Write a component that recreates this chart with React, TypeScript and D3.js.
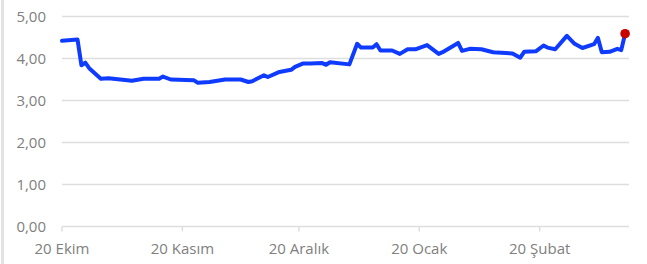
import React from "react";
import * as d3 from "d3";

const dates: string[] = [
  "2023-10-20", "2023-10-24", "2023-10-25", "2023-10-26", "2023-10-27", "2023-10-30",
  "2023-11-01", "2023-11-07", "2023-11-10", "2023-11-14", "2023-11-15", "2023-11-17",
  "2023-11-23", "2023-11-24", "2023-11-27", "2023-12-01", "2023-12-05", "2023-12-07",
  "2023-12-08", "2023-12-11", "2023-12-12", "2023-12-15", "2023-12-18", "2023-12-19",
  "2023-12-21", "2023-12-23", "2023-12-26", "2023-12-27", "2023-12-28", "2024-01-02",
  "2024-01-04", "2024-01-05", "2024-01-08", "2024-01-09", "2024-01-10", "2024-01-13",
  "2024-01-15", "2024-01-17", "2024-01-19", "2024-01-22", "2024-01-25", "2024-01-26",
  "2024-01-30", "2024-01-31", "2024-02-02", "2024-02-05", "2024-02-08", "2024-02-09",
  "2024-02-13", "2024-02-15", "2024-02-16", "2024-02-19", "2024-02-21", "2024-02-22",
  "2024-02-24", "2024-02-27", "2024-02-29", "2024-03-02", "2024-03-05", "2024-03-06",
  "2024-03-07", "2024-03-09", "2024-03-11", "2024-03-12", "2024-03-13",
];
const values: number[] = [
  4.42, 4.45, 3.84, 3.9, 3.77, 3.52,
  3.53, 3.47, 3.52, 3.52, 3.57, 3.5,
  3.48, 3.42, 3.44, 3.5, 3.5, 3.44,
  3.46, 3.6, 3.56, 3.68, 3.73, 3.8,
  3.88, 3.88, 3.89, 3.85, 3.91, 3.86,
  4.35, 4.26, 4.26, 4.34, 4.19, 4.19,
  4.11, 4.22, 4.22, 4.32, 4.11, 4.15,
  4.37, 4.18, 4.23, 4.22, 4.15, 4.14,
  4.12, 4.02, 4.16, 4.17, 4.31, 4.26,
  4.22, 4.54, 4.35, 4.25, 4.34, 4.49,
  4.15, 4.16, 4.23, 4.2, 4.59,
];
const yTicks: number[] = [0, 1, 2, 3, 4, 5];
const xTickDates: string[] = ["2023-10-20", "2023-11-20", "2023-12-20", "2024-01-20", "2024-02-20"];
const xTickLabels: string[] = ["20 Ekim", "20 Kasım", "20 Aralık", "20 Ocak", "20 Şubat"];
const domainStart = "2023-10-20";
const domainEnd = "2024-03-14";

export default function App() {
  const W = 647, H = 264;
  const parse = d3.utcParse("%Y-%m-%d");
  const x = d3.scaleUtc().domain([parse(domainStart)!, parse(domainEnd)!]).range([62, 629]);
  const y = d3.scaleLinear().domain([0, 5]).range([226.5, 16.5]);
  const pts = dates.map((d, i) => ({ d: parse(d)!, v: values[i] }));
  const line = d3.line<{ d: Date; v: number }>().x((p) => x(p.d)).y((p) => y(p.v));
  const last = pts[pts.length - 1];
  const fmt = (v: number) => v.toFixed(2).replace(".", ",");
  const font = "'Open Sans', sans-serif";
  return (
    <svg width={W} height={H} style={{ position: "absolute", left: 0, top: 0, background: "#fff" }}>
      <rect x={1} y={0} width={3} height={H} fill="#e3e3e3" />
      {yTicks.map((t) => (
        <g key={t}>
          <line x1={62} x2={629} y1={y(t)} y2={y(t)} stroke="#dedede" strokeWidth={1.5} />
          <text x={46} y={y(t)} dy="0.35em" textAnchor="end" fontFamily={font} fontSize={15} fill="#808080">
            {fmt(t)}
          </text>
        </g>
      ))}
      {xTickDates.map((d, i) => {
        const xp = x(parse(d)!);
        return (
          <g key={d}>
            <line x1={xp} x2={xp} y1={y(0)} y2={y(0) + 5} stroke="#dedede" strokeWidth={1.5} />
            <text x={xp} y={254} textAnchor="middle" fontFamily={font} fontSize={15} fill="#808080">
              {xTickLabels[i]}
            </text>
          </g>
        );
      })}
      <path d={line(pts) ?? ""} fill="none" stroke="#0f3bff" strokeWidth={4} strokeLinejoin="round" strokeLinecap="round" />
      <circle cx={x(last.d)} cy={y(last.v)} r={4.8} fill="#c80000" />
    </svg>
  );
}
